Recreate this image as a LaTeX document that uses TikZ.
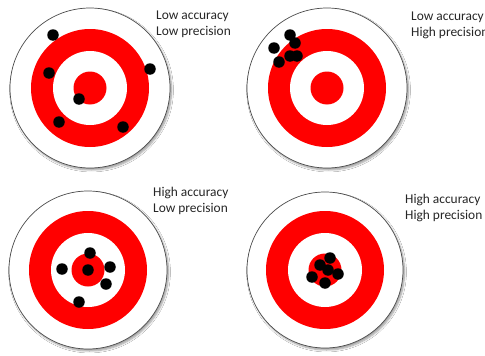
\documentclass[tikz,border=0pt]{standalone}
\usepackage{fontspec}
\setmainfont{Carlito}
\usetikzlibrary{shadows.blur}
\begin{document}
\begin{tikzpicture}[x=1pt,y=-1pt,
  dot/.style={circle, fill=black, minimum size=11.5pt, inner sep=0pt},
  lbl/.style={anchor=west, align=left, inner sep=0pt, text=black!85,
    font=\fontsize{13.4}{16}\selectfont},
  target/.pic={
    \fill[white, draw=black!70, line width=0.7pt,
      blur shadow={shadow xshift=1.5pt, shadow yshift=-2pt, shadow blur steps=6, shadow opacity=40}]
      (0,0) circle (#1);
    \fill[red] (0,0) circle (59);
    \fill[white] (0,0) circle (37);
    \fill[red] (0,0) circle (16.5);
  }]
\useasboundingbox (0,0) rectangle (485,356);
\clip (0,0) rectangle (485,356);
\fill[white] (0,0) rectangle (485,356);

% targets
\pic (t1) at (90,88) {target=80};
\pic (t2) at (327,88) {target=80};
\pic (t3) at (88,270) {target=79};
\pic (t4) at (325,270) {target=78};

% labels
\node[lbl] (l1) at (156,24) {Low accuracy\\Low precision};
\node[lbl] (l2) at (411,25) {Low accuracy\\High precision};
\node[lbl] (l3) at (153,201) {High accuracy\\Low precision};
\node[lbl] (l4) at (405,208) {High accuracy\\High precision};

% target 1 dots
\node[dot] (a1) at (53,35) {};
\node[dot] (a2) at (49,73) {};
\node[dot] (a3) at (150,69) {};
\node[dot] (a4) at (79,99) {};
\node[dot] (a5) at (59,122) {};
\node[dot] (a6) at (123,127) {};

% target 2 dots
\node[dot] (b1) at (290,35) {};
\node[dot] (b2) at (274,48) {};
\node[dot] (b3) at (295,43) {};
\node[dot] (b4) at (279,62) {};
\node[dot] (b5) at (290,56) {};
\node[dot] (b6) at (297,56) {};

% target 3 dots
\node[dot] (c1) at (90,253) {};
\node[dot] (c2) at (62,269) {};
\node[dot] (c3) at (88,270) {};
\node[dot] (c4) at (110,267) {};
\node[dot] (c5) at (106,284) {};
\node[dot] (c6) at (79,302) {};

% target 4 dots
\node[dot] (e1) at (330,258) {};
\node[dot] (e2) at (320,265) {};
\node[dot] (e3) at (328,270) {};
\node[dot] (e4) at (338,274) {};
\node[dot] (e5) at (312,277) {};
\node[dot] (e6) at (325,283) {};
\end{tikzpicture}
\end{document}
